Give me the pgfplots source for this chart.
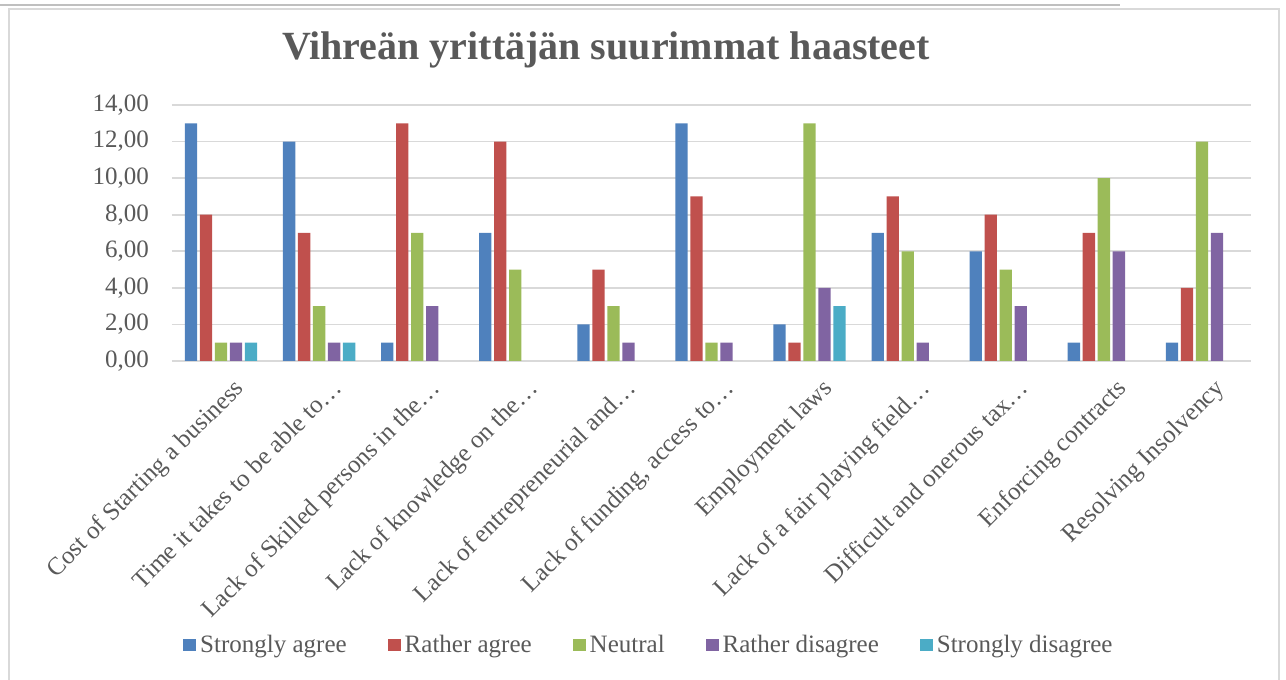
\documentclass[border=0pt]{standalone}
\usepackage{fontspec}
\setmainfont{Liberation Serif}
\usepackage{pgfplots}
\pgfplotsset{compat=1.18}
\definecolor{txt}{HTML}{595959}
\definecolor{grid}{HTML}{D9D9D9}
\definecolor{cA}{HTML}{4F81BD}
\definecolor{cB}{HTML}{C0504D}
\definecolor{cC}{HTML}{9BBB59}
\definecolor{cD}{HTML}{8064A2}
\definecolor{cE}{HTML}{4BACC6}
\pgfplotsset{ybar legend/.style={legend image code/.code={\fill[##1] (0pt,-3.2pt) rectangle (6.4pt,3.2pt);}}}
\begin{document}
\begin{tikzpicture}
\useasboundingbox (0,0) rectangle (643pt,340pt);
\draw[color=black!25, line width=1pt] (0,337.5pt) -- (560pt,337.5pt);
\draw[color=grid, line width=0.8pt] (4.5pt,-10pt) rectangle (639.5pt,335.5pt);
\node[font=\fontsize{20}{24}\selectfont\bfseries, text=txt] at (303pt,315pt) {Vihreän yrittäjän suurimmat haasteet};
\begin{axis}[
  at={(86pt,159.5pt)}, anchor=south west,
  scale only axis, width=539.5pt, height=128pt,
  ybar=1.35pt, bar width=6.15pt,
  xmin=-0.5, xmax=10.5, ymin=0, ymax=14,
  ytick={0,2,...,14},
  xtick={0,...,10},
  xticklabels={Cost of Starting a business,Time it takes to be able to…,Lack of Skilled persons in the…,Lack of knowledge on the…,Lack of entrepreneurial and…,{Lack of funding, access to…},Employment laws,Lack of a fair playing field…,Difficult and onerous tax…,Enforcing contracts,Resolving Insolvency},
  xticklabel style={rotate=45, anchor=north east, inner sep=1pt, yshift=-8.5pt, xshift=-0.5pt},
  yticklabel style={xshift=-8pt},
  tick label style={font=\fontsize{12.5}{15}\selectfont, text=txt},
  /pgf/number format/.cd, fixed, fixed zerofill, precision=2, use comma, assume math mode=true, /pgfplots/.cd,
  major tick length=0pt,
  axis line style={draw=none},
  ymajorgrids, grid style={color=grid, line width=0.8pt},
  legend columns=5,
  legend style={at={(axis description cs:0.443,-1.109)}, anchor=center, draw=none, fill=none,
    font=\fontsize{12.5}{15}\selectfont, text=txt,
    /tikz/every even column/.append style={column sep=18.6pt}},
]
\addplot[fill=cA, draw=none] coordinates {(0,13) (1,12) (2,1) (3,7) (4,2) (5,13) (6,2) (7,7) (8,6) (9,1) (10,1)};
\addplot[fill=cB, draw=none] coordinates {(0,8) (1,7) (2,13) (3,12) (4,5) (5,9) (6,1) (7,9) (8,8) (9,7) (10,4)};
\addplot[fill=cC, draw=none] coordinates {(0,1) (1,3) (2,7) (3,5) (4,3) (5,1) (6,13) (7,6) (8,5) (9,10) (10,12)};
\addplot[fill=cD, draw=none] coordinates {(0,1) (1,1) (2,3) (4,1) (5,1) (6,4) (7,1) (8,3) (9,6) (10,7)};
\addplot[fill=cE, draw=none] coordinates {(0,1) (1,1) (6,3)};
\legend{Strongly agree,Rather agree,Neutral,Rather disagree,Strongly disagree}
\end{axis}
\end{tikzpicture}
\end{document}
